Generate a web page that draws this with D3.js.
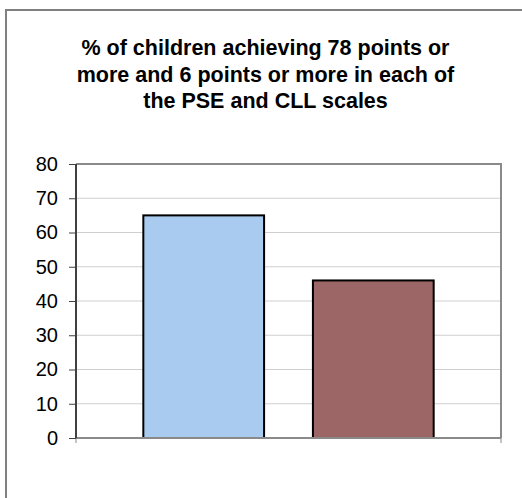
<!DOCTYPE html>
<html>
<head>
<meta charset="utf-8">
<script src="https://cdn.jsdelivr.net/npm/d3@7"></script>
<style>
html,body{margin:0;padding:0;background:#fff;}
svg{display:block;}
</style>
</head>
<body>
<svg id="chart" width="522" height="498"></svg>
<script>
const titleLines = ["% of children achieving 78 points or", "more and 6 points or more in each of", "the PSE and CLL scales"];
const categories = [""];
const seriesNames = ["Series 1", "Series 2"];
const seriesValues = [65, 46];
const seriesColors = ["#a8cbef", "#9b6665"];
const yTicks = [0, 10, 20, 30, 40, 50, 60, 70, 80];

const svg = d3.select("#chart");
const W = 522, H = 498;
const plot = {left: 76, right: 501, top: 164, bottom: 438};

// outer chart border (cropped on right/bottom)
svg.append("rect").attr("x", 6).attr("y", 10).attr("width", W + 20).attr("height", H + 20)
  .attr("fill", "#fff").attr("stroke", "#808080").attr("stroke-width", 2);

// title
const title = svg.append("text").attr("text-anchor", "middle")
  .attr("font-family", "Liberation Sans, Arial, sans-serif").attr("font-weight", "bold")
  .attr("font-size", 21.5).attr("fill", "#000");
titleLines.forEach((t, i) => {
  title.append("tspan").attr("x", 265.5).attr("y", 55 + i * 26.7).text(t);
});

const y = d3.scaleLinear().domain([0, 80]).range([plot.bottom, plot.top]);
const x0 = d3.scaleBand().domain(categories).range([plot.left, plot.right]).padding(0);
const x1 = d3.scaleBand().domain(seriesNames).range([0, x0.bandwidth()])
  .paddingInner(0.288).paddingOuter(0.397);

const g = svg.append("g");

// gridlines
g.selectAll("line.grid").data(yTicks.filter(d => d > 0)).enter().append("line")
  .attr("x1", plot.left).attr("x2", plot.right)
  .attr("y1", d => y(d)).attr("y2", d => y(d))
  .attr("stroke", "#cfcfcf").attr("stroke-width", 1);

// plot frame top & right
g.append("path")
  .attr("d", `M${plot.left},${y(80)}H${plot.right}V${plot.bottom}`)
  .attr("fill", "none").attr("stroke", "#8a8a8a").attr("stroke-width", 2);

// bars
const cat = g.selectAll("g.cat").data(categories).enter().append("g")
  .attr("transform", d => `translate(${x0(d)},0)`);
cat.selectAll("rect").data(seriesNames.map((s, i) => ({s, v: seriesValues[i], c: seriesColors[i]})))
  .enter().append("rect")
  .attr("x", d => x1(d.s)).attr("width", x1.bandwidth())
  .attr("y", d => y(d.v)).attr("height", d => y(0) - y(d.v))
  .attr("fill", d => d.c).attr("stroke", "#000").attr("stroke-width", 2);

// x axis
const xAxis = d3.axisBottom(x0).tickSize(0).tickFormat("");
const xa = svg.append("g").attr("transform", `translate(0,${plot.bottom})`).call(xAxis);
xa.select(".domain").remove();
xa.append("line").attr("x1", plot.left).attr("x2", plot.right).attr("y1", 0).attr("y2", 0)
  .attr("stroke", "#8a8a8a").attr("stroke-width", 2);
[plot.left, plot.right].forEach(px => {
  xa.append("line").attr("x1", px).attr("x2", px).attr("y1", 0).attr("y2", 5)
    .attr("stroke", "#8a8a8a").attr("stroke-width", 1);
});

// y axis
const yAxis = d3.axisLeft(y).tickValues(yTicks).tickSize(7).tickPadding(11);
const ya = svg.append("g").attr("transform", `translate(${plot.left},0)`).call(yAxis);
ya.select(".domain").attr("stroke", "#404040").attr("stroke-width", 2)
  .attr("d", `M0,${y(80)}V${y(0)}`);
ya.selectAll(".tick line").attr("stroke", "#404040").attr("stroke-width", 1);
ya.selectAll(".tick text").attr("font-family", "Liberation Sans, Arial, sans-serif")
  .attr("font-size", 20).attr("fill", "#000");
</script>
</body>
</html>
